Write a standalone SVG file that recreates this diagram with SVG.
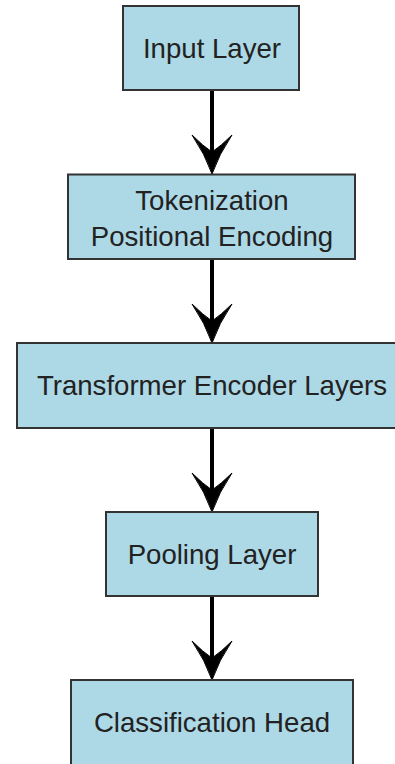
<svg xmlns="http://www.w3.org/2000/svg" width="395" height="764" viewBox="0 0 395 764">
<defs>
<style>
.box{fill:#add8e6;stroke:#333;stroke-width:2}
.lbl{font-family:"Liberation Sans",Arial,sans-serif;font-size:27.6px;fill:#222;text-anchor:middle}
.edge{stroke:#000;stroke-width:4;fill:none}
.head{fill:#000;stroke:#000;stroke-width:1}
</style>
<path id="vee" class="head" d="M0,0 Q-7,-20 -20,-39 Q-9,-28 0,-22 Q9,-28 20,-39 Q7,-20 0,0 Z"/>
</defs>
<rect width="395" height="764" fill="#fff"/>
<g id="connectors">
<line class="edge" x1="212" y1="90" x2="212" y2="154"/>
<use href="#vee" x="212" y="174"/>
<line class="edge" x1="212" y1="259" x2="212" y2="323"/>
<use href="#vee" x="212" y="343"/>
<line class="edge" x1="212" y1="428" x2="212" y2="492"/>
<use href="#vee" x="212" y="512"/>
<line class="edge" x1="212" y1="596" x2="212" y2="660"/>
<use href="#vee" x="212" y="680"/>
</g>
<g id="input">
<rect class="box" x="123" y="6" width="176" height="84"/>
<text class="lbl" x="212" y="57.5">Input Layer</text>
</g>
<g id="tokenization">
<rect class="box" x="68" y="174.5" width="287" height="84.5"/>
<text class="lbl" x="212" y="210">Tokenization</text>
<text class="lbl" x="212" y="245.5">Positional Encoding</text>
</g>
<g id="transformer">
<rect class="box" x="17" y="343" width="380" height="85"/>
<text class="lbl" x="212" y="395">Transformer Encoder Layers</text>
</g>
<g id="pooling">
<rect class="box" x="106" y="512" width="212" height="84"/>
<text class="lbl" x="212" y="563.5">Pooling Layer</text>
</g>
<g id="classification">
<rect class="box" x="71" y="680" width="282" height="86"/>
<text class="lbl" x="212" y="731.5">Classification Head</text>
</g>
</svg>
